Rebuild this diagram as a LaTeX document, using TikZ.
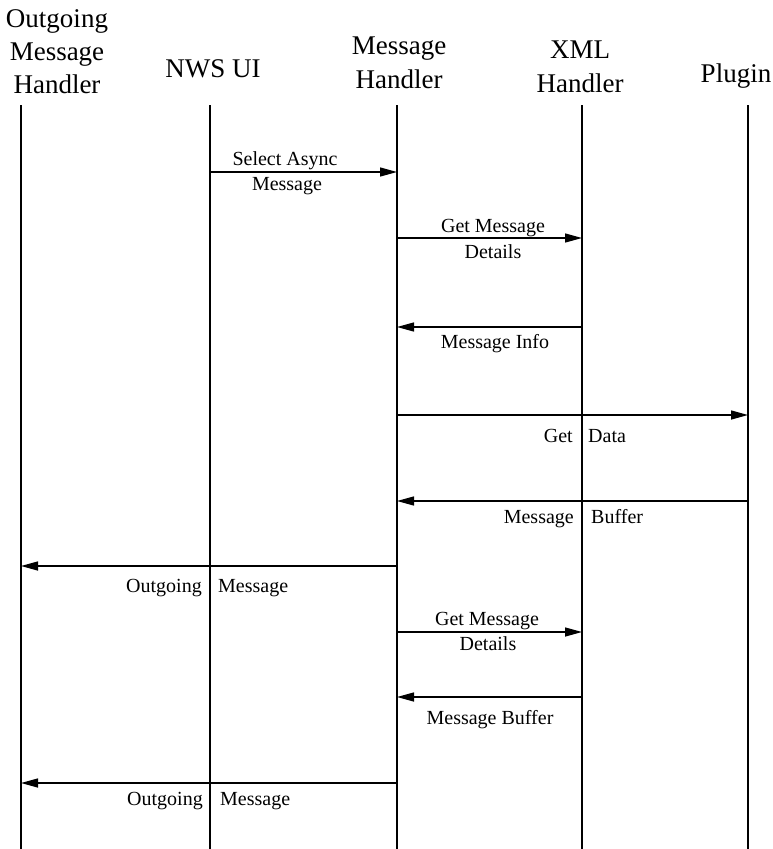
\documentclass[tikz,border=0pt]{standalone}
\usepackage{fontspec}
\setmainfont{Liberation Serif}
\usetikzlibrary{arrows.meta}
\begin{document}
\begin{tikzpicture}[x=1pt,y=-1pt,
  lifeline/.style={line width=1.8pt},
  msg/.style={line width=1.4pt,-{Triangle[length=17pt,width=9pt]}},
  head/.style={font=\fontsize{27}{33}\selectfont,inner sep=0pt,anchor=base},
  lbl/.style={font=\fontsize{20}{22}\selectfont,inner sep=0pt},
  lblc/.style={lbl,anchor=base},
  lblr/.style={lbl,anchor=base east},
  lbll/.style={lbl,anchor=base west}]
\useasboundingbox (0,0) rectangle (773,849);

% participant headings, one node per line, placed by baseline
\node[head] (omh) at (57,27) {Outgoing};
\node[head] (omh2) at (57,60) {Message};
\node[head] (omh3) at (57,93) {Handler};
\node[head] (nws) at (213,77) {NWS UI};
\node[head] (mh) at (399,54) {Message};
\node[head] (mh2) at (399,88) {Handler};
\node[head] (xml) at (580,58) {XML};
\node[head] (xml2) at (580,92) {Handler};
\node[head] (plg) at (736,82) {Plugin};

% lifelines
\coordinate (omhT) at (21,105);  \coordinate (omhB) at (21,849);
\coordinate (nwsT) at (210,105); \coordinate (nwsB) at (210,849);
\coordinate (mhT) at (397,105);  \coordinate (mhB) at (397,849);
\coordinate (xmlT) at (582,105); \coordinate (xmlB) at (582,849);
\coordinate (plgT) at (748,105); \coordinate (plgB) at (748,849);
\foreach \p in {omh,nws,mh,xml,plg} \draw[lifeline] (\p T) -- (\p B);

% message levels
\coordinate (m1) at (0,172);
\coordinate (m2) at (0,238);
\coordinate (m3) at (0,327);
\coordinate (m4) at (0,415);
\coordinate (m5) at (0,501);
\coordinate (m6) at (0,566);
\coordinate (m7) at (0,632);
\coordinate (m8) at (0,697);
\coordinate (m9) at (0,783);

% messages
\draw[msg] (nwsT |- m1) -- (mhT |- m1);
\draw[msg] (mhT |- m2) -- (xmlT |- m2);
\draw[msg] (xmlT |- m3) -- (mhT |- m3);
\draw[msg] (mhT |- m4) -- (plgT |- m4);
\draw[msg] (plgT |- m5) -- (mhT |- m5);
\draw[msg] (mhT |- m6) -- (omhT |- m6);
\draw[msg] (mhT |- m7) -- (xmlT |- m7);
\draw[msg] (xmlT |- m8) -- (mhT |- m8);
\draw[msg] (mhT |- m9) -- (omhT |- m9);

% message labels
\node[lblc] (l1a) at (285,165) {Select Async};
\node[lblc] (l1b) at (287,190) {Message};
\node[lblc] (l2a) at (493,232) {Get Message};
\node[lblc] (l2b) at (493,258) {Details};
\node[lblc] (l3) at (495,348) {Message Info};
\node[lblr] (l4a) at (573,442) {Get};
\node[lbll] (l4b) at (588,442) {Data};
\node[lblr] (l5a) at (574,523) {Message};
\node[lbll] (l5b) at (591,523) {Buffer};
\node[lblr] (l6a) at (202,592) {Outgoing};
\node[lbll] (l6b) at (218,592) {Message};
\node[lblc] (l7a) at (487,625) {Get Message};
\node[lblc] (l7b) at (488,650) {Details};
\node[lblc] (l8) at (490,724) {Message Buffer};
\node[lblr] (l9a) at (203,805) {Outgoing};
\node[lbll] (l9b) at (220,805) {Message};
\end{tikzpicture}
\end{document}
